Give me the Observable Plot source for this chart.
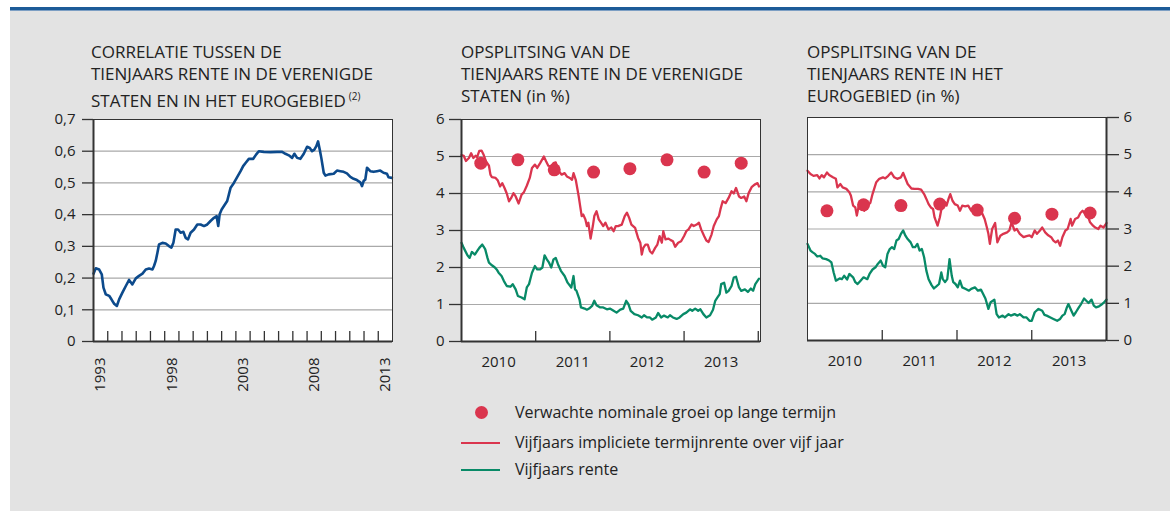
<!DOCTYPE html>
<html><head><meta charset="utf-8">
<script src="https://cdn.jsdelivr.net/npm/d3@7"></script>
<script src="https://cdn.jsdelivr.net/npm/@observablehq/plot@0.6"></script>
<style>
body{margin:0;background:#fff;font-family:"Open Sans",sans-serif;color:#222;}
#page{position:relative;width:1170px;height:511px;overflow:hidden;}
#bar{position:absolute;left:10px;top:7px;width:1160px;height:3px;background:#1d5b98;}
#bar2{position:absolute;left:10px;top:10px;width:1160px;height:1px;background:#7d9fc4;}
#bg{position:absolute;left:10px;top:11px;width:1160px;height:500px;background:#e3e3e3;}
.title{position:absolute;font-size:17px;line-height:22px;color:#222;white-space:nowrap;}
.chart{position:absolute;}
.leg{position:absolute;font-size:16px;line-height:20px;color:#222;white-space:nowrap;}
</style></head>
<body><div id="page">
<div id="bar"></div><div id="bar2"></div><div id="bg"></div>
<div class="title" style="left:91px;top:41px">CORRELATIE TUSSEN DE<br>TIENJAARS RENTE IN DE VERENIGDE<br>STATEN EN IN HET EUROGEBIED<span style="font-size:10px;vertical-align:7px;margin-left:3px">(2)</span></div>
<div class="title" style="left:461px;top:41px">OPSPLITSING VAN DE<br>TIENJAARS RENTE IN DE VERENIGDE<br>STATEN (in %)</div>
<div class="title" style="left:807px;top:41px">OPSPLITSING VAN DE<br>TIENJAARS RENTE IN HET<br>EUROGEBIED (in %)</div>
<div class="chart" id="c1" style="left:40px;top:105px"></div>
<div class="chart" id="c2" style="left:420px;top:105px"></div>
<div class="chart" id="c3" style="left:780px;top:103px"></div>
<div id="legend"></div>
</div>
<script>
// ---- data ----
const corrTicks = [0, 0.1, 0.2, 0.3, 0.4, 0.5, 0.6, 0.7];
const corrLabelYears = [1993, 1998, 2003, 2008, 2013];
const corrTickYears = d3.range(1994, 2014);
const rateTicks = [0, 1, 2, 3, 4, 5, 6];
const rateLabelYears = [2010, 2011, 2012, 2013];
const rateTickYears = [2011, 2012, 2013, 2014];

const corrData = [[1993.00,0.214],[1993.16,0.231],[1993.40,0.227],[1993.58,0.212],[1993.70,0.170],[1993.86,0.149],[1994.10,0.144],[1994.26,0.133],[1994.45,0.119],[1994.64,0.112],[1994.80,0.133],[1995.03,0.154],[1995.27,0.175],[1995.50,0.194],[1995.73,0.180],[1995.97,0.199],[1996.20,0.207],[1996.44,0.214],[1996.67,0.227],[1996.90,0.230],[1997.14,0.227],[1997.25,0.238],[1997.37,0.254],[1997.49,0.280],[1997.60,0.306],[1997.84,0.311],[1998.07,0.309],[1998.30,0.301],[1998.47,0.296],[1998.61,0.311],[1998.77,0.353],[1998.94,0.353],[1999.12,0.343],[1999.31,0.346],[1999.47,0.327],[1999.64,0.322],[1999.82,0.343],[2000.06,0.353],[2000.29,0.369],[2000.52,0.369],[2000.76,0.364],[2000.99,0.369],[2001.22,0.380],[2001.46,0.390],[2001.65,0.395],[2001.76,0.364],[2001.86,0.401],[2002.00,0.416],[2002.16,0.427],[2002.39,0.443],[2002.51,0.464],[2002.63,0.485],[2002.86,0.500],[2003.09,0.518],[2003.33,0.537],[2003.51,0.553],[2003.68,0.563],[2003.91,0.576],[2004.22,0.576],[2004.43,0.590],[2004.61,0.600],[2004.96,0.598],[2005.43,0.597],[2005.90,0.598],[2006.25,0.598],[2006.48,0.592],[2006.72,0.587],[2006.95,0.579],[2007.11,0.592],[2007.30,0.579],[2007.53,0.576],[2007.77,0.592],[2008.00,0.614],[2008.19,0.610],[2008.35,0.600],[2008.51,0.605],[2008.65,0.616],[2008.77,0.631],[2008.89,0.605],[2009.00,0.579],[2009.17,0.532],[2009.29,0.523],[2009.52,0.527],[2009.87,0.529],[2010.10,0.539],[2010.34,0.537],[2010.57,0.535],[2010.80,0.530],[2011.04,0.519],[2011.27,0.513],[2011.50,0.509],[2011.74,0.502],[2011.86,0.490],[2011.97,0.506],[2012.09,0.511],[2012.21,0.548],[2012.44,0.537],[2012.67,0.535],[2012.91,0.537],[2013.14,0.539],[2013.37,0.532],[2013.61,0.529],[2013.72,0.518],[2013.96,0.516]];

const usForward = [[2010.00,5.04],[2010.03,5.02],[2010.06,4.88],[2010.10,4.96],[2010.13,5.09],[2010.16,4.96],[2010.19,5.02],[2010.21,4.98],[2010.24,5.15],[2010.27,5.16],[2010.30,5.04],[2010.33,4.87],[2010.37,4.75],[2010.39,4.51],[2010.41,4.44],[2010.46,4.42],[2010.49,4.35],[2010.52,4.19],[2010.55,4.28],[2010.58,4.15],[2010.61,4.00],[2010.64,3.79],[2010.67,3.88],[2010.70,4.01],[2010.73,3.92],[2010.77,3.73],[2010.81,3.97],[2010.84,4.03],[2010.88,4.21],[2010.92,4.42],[2010.95,4.69],[2010.99,4.78],[2011.02,4.69],[2011.06,4.82],[2011.11,5.00],[2011.14,4.87],[2011.17,4.75],[2011.21,4.73],[2011.24,4.82],[2011.27,4.84],[2011.31,4.60],[2011.35,4.51],[2011.39,4.55],[2011.42,4.46],[2011.46,4.42],[2011.49,4.37],[2011.51,4.55],[2011.54,4.37],[2011.58,3.92],[2011.60,3.65],[2011.62,3.39],[2011.64,3.43],[2011.67,3.30],[2011.69,3.12],[2011.71,3.21],[2011.74,2.78],[2011.77,3.12],[2011.79,3.39],[2011.82,3.52],[2011.85,3.30],[2011.88,3.21],[2011.91,3.12],[2011.94,3.21],[2011.98,3.03],[2012.02,3.08],[2012.05,2.98],[2012.08,3.12],[2012.11,3.12],[2012.16,3.16],[2012.20,3.39],[2012.23,3.48],[2012.26,3.34],[2012.29,3.16],[2012.34,3.07],[2012.38,2.80],[2012.41,2.67],[2012.43,2.35],[2012.45,2.53],[2012.48,2.62],[2012.51,2.62],[2012.54,2.44],[2012.57,2.38],[2012.61,2.53],[2012.64,2.62],[2012.67,2.85],[2012.70,2.67],[2012.72,2.98],[2012.75,2.76],[2012.79,2.78],[2012.82,2.74],[2012.85,2.71],[2012.88,2.56],[2012.92,2.67],[2012.96,2.71],[2013.00,2.85],[2013.03,2.98],[2013.06,3.03],[2013.10,3.16],[2013.13,3.12],[2013.17,3.16],[2013.20,3.21],[2013.23,3.03],[2013.27,2.85],[2013.30,2.73],[2013.33,2.69],[2013.37,2.89],[2013.40,3.12],[2013.44,3.30],[2013.47,3.39],[2013.49,3.57],[2013.52,3.79],[2013.56,3.74],[2013.60,3.88],[2013.64,4.06],[2013.67,4.00],[2013.70,4.15],[2013.74,3.92],[2013.77,3.88],[2013.81,3.92],[2013.84,3.79],[2013.87,4.01],[2013.91,4.17],[2013.95,4.24],[2013.99,4.28],[2014.01,4.19]];

const usFive = [[2010.00,2.67],[2010.03,2.53],[2010.08,2.33],[2010.11,2.26],[2010.14,2.42],[2010.18,2.35],[2010.21,2.44],[2010.24,2.53],[2010.28,2.62],[2010.30,2.56],[2010.32,2.49],[2010.35,2.26],[2010.37,2.13],[2010.41,2.06],[2010.45,2.00],[2010.48,1.93],[2010.50,1.86],[2010.54,1.77],[2010.57,1.64],[2010.61,1.50],[2010.66,1.48],[2010.69,1.55],[2010.73,1.41],[2010.76,1.23],[2010.81,1.19],[2010.85,1.14],[2010.88,1.46],[2010.91,1.55],[2010.95,1.86],[2010.99,2.04],[2011.02,1.95],[2011.06,1.95],[2011.09,2.00],[2011.12,2.33],[2011.15,2.22],[2011.18,2.13],[2011.21,2.00],[2011.24,2.22],[2011.27,2.26],[2011.30,2.09],[2011.34,1.91],[2011.39,1.77],[2011.43,1.59],[2011.48,1.46],[2011.51,1.77],[2011.53,1.41],[2011.55,1.37],[2011.59,1.14],[2011.61,0.92],[2011.66,0.89],[2011.69,0.86],[2011.72,0.89],[2011.76,0.96],[2011.79,1.10],[2011.82,0.98],[2011.87,0.92],[2011.91,0.92],[2011.96,0.87],[2012.00,0.89],[2012.05,0.83],[2012.09,0.78],[2012.14,0.86],[2012.18,0.89],[2012.22,1.10],[2012.25,1.01],[2012.28,0.83],[2012.33,0.74],[2012.38,0.71],[2012.43,0.65],[2012.46,0.71],[2012.50,0.65],[2012.54,0.65],[2012.57,0.59],[2012.62,0.65],[2012.65,0.77],[2012.69,0.65],[2012.73,0.70],[2012.78,0.65],[2012.81,0.71],[2012.85,0.65],[2012.90,0.61],[2012.94,0.65],[2012.99,0.74],[2013.03,0.78],[2013.08,0.87],[2013.11,0.83],[2013.15,0.89],[2013.19,0.83],[2013.22,0.87],[2013.26,0.74],[2013.30,0.65],[2013.35,0.71],[2013.39,0.86],[2013.42,1.10],[2013.45,1.19],[2013.48,1.28],[2013.50,1.55],[2013.54,1.59],[2013.57,1.32],[2013.60,1.37],[2013.64,1.50],[2013.67,1.73],[2013.70,1.75],[2013.74,1.46],[2013.77,1.37],[2013.82,1.41],[2013.86,1.34],[2013.90,1.43],[2013.93,1.37],[2013.96,1.55],[2014.01,1.70]];

const usGrowth = [[2010.26,4.82],[2010.76,4.91],[2011.25,4.64],[2011.78,4.58],[2012.27,4.67],[2012.77,4.91],[2013.27,4.58],[2013.77,4.82]];

const euForward = [[2010.00,4.57],[2010.04,4.48],[2010.08,4.43],[2010.13,4.45],[2010.16,4.36],[2010.19,4.45],[2010.22,4.39],[2010.26,4.52],[2010.29,4.45],[2010.34,4.39],[2010.38,4.35],[2010.40,4.12],[2010.44,4.21],[2010.47,4.12],[2010.52,4.08],[2010.56,3.99],[2010.58,3.90],[2010.61,3.63],[2010.64,3.58],[2010.66,3.36],[2010.69,3.67],[2010.73,3.72],[2010.76,3.49],[2010.80,3.63],[2010.84,3.70],[2010.87,3.94],[2010.92,4.26],[2010.96,4.35],[2011.01,4.39],[2011.04,4.36],[2011.08,4.43],[2011.12,4.52],[2011.16,4.39],[2011.20,4.35],[2011.25,4.39],[2011.28,4.51],[2011.31,4.36],[2011.34,4.21],[2011.39,4.09],[2011.43,4.08],[2011.48,4.08],[2011.52,4.06],[2011.56,3.94],[2011.59,3.81],[2011.62,3.67],[2011.65,3.58],[2011.68,3.54],[2011.70,3.31],[2011.74,3.09],[2011.77,3.31],[2011.80,3.63],[2011.84,3.72],[2011.86,3.63],[2011.89,3.83],[2011.91,3.94],[2011.94,3.76],[2011.97,3.67],[2012.01,3.63],[2012.04,3.49],[2012.07,3.63],[2012.11,3.61],[2012.15,3.63],[2012.19,3.49],[2012.24,3.49],[2012.28,3.45],[2012.33,3.45],[2012.37,3.27],[2012.40,3.04],[2012.42,2.87],[2012.44,2.60],[2012.47,3.00],[2012.51,3.16],[2012.54,2.64],[2012.58,2.82],[2012.62,2.87],[2012.67,2.91],[2012.70,2.96],[2012.73,3.18],[2012.77,2.96],[2012.80,3.00],[2012.84,2.87],[2012.89,2.78],[2012.93,2.81],[2012.97,2.83],[2013.00,2.78],[2013.04,2.96],[2013.07,2.87],[2013.11,2.96],[2013.14,3.04],[2013.18,2.91],[2013.22,2.83],[2013.26,2.78],[2013.29,2.69],[2013.32,2.64],[2013.35,2.69],[2013.38,2.55],[2013.41,2.78],[2013.45,2.96],[2013.48,3.00],[2013.52,3.27],[2013.54,3.09],[2013.58,3.27],[2013.62,3.31],[2013.65,3.43],[2013.68,3.49],[2013.72,3.40],[2013.75,3.36],[2013.78,3.18],[2013.82,3.09],[2013.85,3.04],[2013.89,3.00],[2013.92,3.09],[2013.96,3.04],[2014.00,3.16]];

const euFive = [[2010.00,2.60],[2010.04,2.42],[2010.07,2.37],[2010.10,2.33],[2010.13,2.26],[2010.17,2.28],[2010.20,2.21],[2010.25,2.19],[2010.29,2.15],[2010.32,2.10],[2010.35,1.83],[2010.38,1.61],[2010.43,1.67],[2010.46,1.65],[2010.49,1.74],[2010.53,1.64],[2010.56,1.79],[2010.61,1.70],[2010.64,1.57],[2010.67,1.52],[2010.71,1.61],[2010.75,1.70],[2010.80,1.65],[2010.83,1.79],[2010.87,1.91],[2010.91,1.97],[2010.94,2.06],[2010.98,2.15],[2011.01,2.01],[2011.04,1.97],[2011.07,2.33],[2011.10,2.46],[2011.13,2.51],[2011.16,2.46],[2011.19,2.69],[2011.22,2.73],[2011.25,2.87],[2011.28,2.96],[2011.31,2.82],[2011.34,2.73],[2011.38,2.64],[2011.41,2.51],[2011.44,2.51],[2011.47,2.60],[2011.50,2.42],[2011.53,2.46],[2011.56,2.24],[2011.59,1.88],[2011.62,1.65],[2011.66,1.49],[2011.69,1.40],[2011.72,1.45],[2011.76,1.52],[2011.79,1.83],[2011.81,1.65],[2011.84,1.57],[2011.87,1.65],[2011.90,2.19],[2011.93,1.74],[2011.95,1.57],[2011.98,1.52],[2012.01,1.43],[2012.04,1.61],[2012.07,1.43],[2012.11,1.39],[2012.16,1.34],[2012.19,1.39],[2012.24,1.43],[2012.28,1.34],[2012.32,1.37],[2012.35,1.25],[2012.38,1.13],[2012.42,0.85],[2012.45,1.03],[2012.50,1.10],[2012.53,0.71],[2012.56,0.62],[2012.61,0.67],[2012.64,0.62],[2012.69,0.71],[2012.72,0.67],[2012.77,0.71],[2012.81,0.67],[2012.84,0.71],[2012.89,0.62],[2012.93,0.62],[2012.97,0.53],[2013.00,0.53],[2013.04,0.76],[2013.09,0.85],[2013.14,0.80],[2013.17,0.69],[2013.20,0.67],[2013.25,0.62],[2013.29,0.58],[2013.34,0.53],[2013.38,0.58],[2013.41,0.67],[2013.44,0.71],[2013.47,0.89],[2013.49,0.98],[2013.53,0.80],[2013.56,0.67],[2013.59,0.76],[2013.63,0.89],[2013.66,0.98],[2013.70,1.13],[2013.73,1.07],[2013.76,1.01],[2013.80,1.10],[2013.83,0.94],[2013.86,0.89],[2013.90,0.92],[2013.93,0.96],[2013.96,1.01],[2014.00,1.10]];

const euGrowth = [[2010.26,3.49],[2010.75,3.65],[2011.25,3.63],[2011.77,3.67],[2012.27,3.51],[2012.77,3.29],[2013.27,3.40],[2013.78,3.43]];

const legendItems = ["Verwachte nominale groei op lange termijn", "Vijfjaars impliciete termijnrente over vijf jaar", "Vijfjaars rente"];

// ---- styles ----
const BLUE = "#0c4a8c", RED = "#da354e", GREEN = "#088a67", GRID = "#a9a9a9", AXIS = "#333";
const baseStyle = {fontFamily: "'Open Sans', sans-serif", fontSize: "15px", color: "#222", background: "transparent", overflow: "visible"};
const fmtCorr = d => d === 0 ? "0" : d.toFixed(1).replace(".", ",");

// ---- panel 1 ----
{
  const H = 296, mt = 14, mb = 60;
  const chart = Plot.plot({
    width: 360, height: H, marginLeft: 53, marginRight: 8, marginTop: mt, marginBottom: mb,
    style: baseStyle,
    x: {type: "linear", domain: [1993, 2014]},
    y: {domain: [0, 0.7]},
    marks: [
      Plot.frame({fill: "white", stroke: null}),
      Plot.gridY(corrTicks.filter(d => d > 0 && d < 0.7), {stroke: GRID, strokeOpacity: 1, strokeWidth: 1.2}),
      Plot.tickX(corrTickYears, {x: d => d, insetTop: H - mt - mb - 10, stroke: AXIS, strokeWidth: 1.3}),
      Plot.line(corrData, {x: d => d[0], y: d => d[1], stroke: BLUE, strokeWidth: 2.6}),
      Plot.frame({stroke: AXIS, strokeWidth: 1}),
      Plot.ruleX([1993], {stroke: AXIS, strokeWidth: 2}),
      Plot.ruleY([0], {stroke: AXIS, strokeWidth: 2}),
      Plot.axisY(corrTicks, {tickSize: 11, tickPadding: 7, tickFormat: fmtCorr, stroke: AXIS, strokeWidth: 1.3, label: null}),
      Plot.axisX(corrLabelYears.map(y => y + 0.5), {tickSize: 0, tickPadding: 16, tickRotate: -90, tickFormat: d => String(Math.floor(d)), label: null})
    ]
  });
  document.getElementById("c1").appendChild(chart);
}

function ratePanel(el, fwd, five, growth, side, H, mr, ml, xmax) {
  const mt = 14, mb = 60;
  const chart = Plot.plot({
    width: side === "left" ? 350 : 366, height: H, marginLeft: ml, marginRight: mr, marginTop: mt, marginBottom: mb,
    style: baseStyle,
    x: {type: "linear", domain: [2010, xmax]},
    y: {domain: [0, 6]},
    marks: [
      Plot.frame({fill: "white", stroke: null}),
      Plot.gridY(rateTicks.filter(d => d > 0 && d < 6), {stroke: GRID, strokeOpacity: 1, strokeWidth: 1.2}),
      Plot.tickX(rateTickYears, {x: d => d, insetTop: H - mt - mb - 10, stroke: AXIS, strokeWidth: 1.3}),
      Plot.line(five, {x: d => d[0], y: d => d[1], stroke: GREEN, strokeWidth: 2.3}),
      Plot.line(fwd, {x: d => d[0], y: d => d[1], stroke: RED, strokeWidth: 2.3}),
      Plot.dot(growth, {x: d => d[0], y: d => d[1], r: 6.5, fill: RED, stroke: null}),
      Plot.frame({stroke: AXIS, strokeWidth: 1}),
      Plot.ruleX([side === "left" ? 2010 : xmax], {stroke: AXIS, strokeWidth: 2}),
      Plot.ruleY([0], {stroke: AXIS, strokeWidth: 2}),
      Plot.axisY(rateTicks, {anchor: side, tickSize: 12, tickPadding: 5, stroke: AXIS, strokeWidth: 1.3, label: null}),
      Plot.axisX(rateLabelYears.map(y => y + 0.5), {tickSize: 0, tickPadding: 15, tickFormat: d => String(Math.floor(d)), label: null})
    ]
  });
  document.getElementById(el).appendChild(chart);
}
ratePanel("c2", usForward, usFive, usGrowth, "left", 296, 10, 41, 2014.03);
ratePanel("c3", euForward, euFive, euGrowth, "right", 297, 40, 27, 2014);

// ---- legend ----
{
  const lg = document.getElementById("legend");
  const rows = [412.5, 442.5, 470];
  legendItems.forEach((t, i) => {
    const y = rows[i];
    let sym;
    if (i === 0) sym = `<div style="position:absolute;left:${481.7-6.7}px;top:${y-6.7}px;width:13.4px;height:13.4px;border-radius:50%;background:${RED}"></div>`;
    else sym = `<div style="position:absolute;left:461px;top:${y-1}px;width:39px;height:2px;background:${i === 1 ? RED : GREEN}"></div>`;
    lg.insertAdjacentHTML("beforeend", sym + `<div class="leg" style="left:515px;top:${y-11}px">${t}</div>`);
  });
}
</script>
</body></html>
